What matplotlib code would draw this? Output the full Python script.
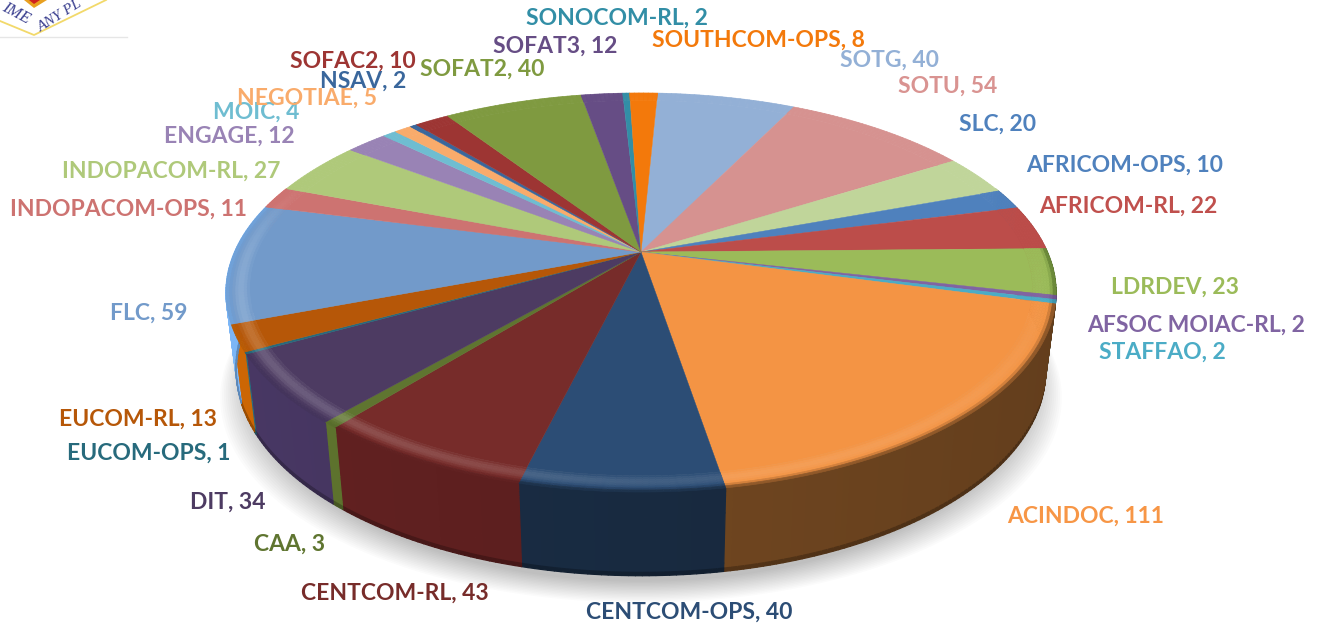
import numpy as np
import matplotlib
matplotlib.use("Agg")
import matplotlib.pyplot as plt
from matplotlib.collections import PolyCollection
from matplotlib.colors import to_rgb

categories = ["SOTG", "SOTU", "SLC", "AFRICOM-OPS", "AFRICOM-RL", "LDRDEV", "AFSOC MOIAC-RL", "STAFFAO",
              "ACINDOC", "CENTCOM-OPS", "CENTCOM-RL", "CAA", "DIT", "EUCOM-OPS", "EUCOM-RL", "FLC",
              "INDOPACOM-OPS", "INDOPACOM-RL", "ENGAGE", "MOIC", "NEGOTIAE", "NSAV", "SOFAC2", "SOFAT2",
              "SOFAT3", "SONOCOM-RL", "SOUTHCOM-OPS"]
values = [40, 54, 20, 10, 22, 23, 2, 2, 111, 40, 43, 3, 34, 1, 13, 59, 11, 27, 12, 4, 5, 2, 10, 40, 12, 2, 8]

colors = ["#93b0d6", "#d69290", "#c0d59a", "#4f81bd", "#bc4d4a", "#9bbb59", "#8064a2", "#4bacc6",
          "#f49444", "#2c4d75", "#772c2a", "#5f7530", "#4d3b62", "#276a7c", "#b65708", "#729aca",
          "#cd7371", "#afc97a", "#9983b5", "#6fbdd1", "#f9ab6b", "#3a679c", "#9d3533", "#7f9a40",
          "#664d85", "#328ea6", "#f3790b"]
wall_colors = ["#93b0d6", "#d69290", "#c0d59a", "#4f81bd", "#bc4d4a", "#5c7a30", "#6a4f8a", "#3a8fa6",
               "#704620", "#182a40", "#5a1e1e", "#566a2a", "#41325a", "#246070", "#b85c04", "#6fa3dc",
               "#cd7371", "#afc97a", "#9983b5", "#6fbdd1", "#f9ab6b", "#3a679c", "#9d3533", "#7f9a40",
               "#664d85", "#328ea6", "#f3790b"]
label_colors = ["#93b0d6", "#d99391", "#4f81bd", "#4f81bd", "#c0504d", "#9bbb59", "#8064a2", "#4bacc6",
                "#f79646", "#2c4d75", "#772c2a", "#5f7530", "#4d3b62", "#276a7c", "#b65708", "#729aca",
                "#cd7371", "#afc97a", "#9983b5", "#6fbdd1", "#f9ab6b", "#3a679c", "#9d3533", "#7f9a40",
                "#664d85", "#328ea6", "#f3790b"]
label_xy = [(890, 59), (948, 85), (998, 123), (1125, 164), (1128, 205), (1175, 286), (1196, 324), (1162, 351),
            (1086, 515), (689, 611), (395, 592), (290, 543), (228, 501), (149, 452), (138, 418), (149, 312),
            (128, 208), (171, 170), (229, 135), (256, 111), (307, 97), (363, 80), (353, 60), (482, 68),
            (555, 45), (617, 17), (758, 39)]

W, H = 1324, 627
CX, CY, B, A, K = 641.0, 252.0, 406.4, 191.3, 0.203
START_DEG = 2.8
DEPTH, K2, SHRINK = 77.0, 0.08, 0.975


def top_pt(theta, r=1.0):
    u, v = r * np.sin(theta), r * np.cos(theta)
    w = 1 + K * v
    return CX + B * u / w, CY - A * v / w


def wall_pt(theta, t):
    x, y = top_pt(theta)
    v = np.cos(theta)
    return CX + (x - CX) * (1 - (1 - SHRINK) * t), y + t * DEPTH / (1 + K2 * v)


def mix(c, target, f):
    return tuple((1 - f) * a + f * b for a, b in zip(c, target))


fig = plt.figure(figsize=(W / 100, H / 100), dpi=100, facecolor="white")
ax = fig.add_axes([0, 0, 1, 1])
ax.set_xlim(0, W)
ax.set_ylim(H, 0)
ax.axis("off")

# soft shadow under the pie
ths = np.linspace(0, 2 * np.pi, 361)
for grow in np.linspace(1.04, 0.97, 16):
    xs = CX + (np.array([wall_pt(t, 1)[0] for t in ths]) - CX) * grow
    ys = np.array([wall_pt(t, 1)[1] for t in ths]) + 6 + (grow - 0.97) * 300
    ax.fill(xs, ys, color="black", alpha=0.016, lw=0, zorder=0)

edges = np.cumsum([0] + values) / sum(values) * 2 * np.pi + np.radians(START_DEG)

wall_polys, wall_cols = [], []
ring_polys, ring_cols = [], []
top_polys, top_cols = [], []
rings = np.linspace(0.945, 1.0, 9)
layers = np.array([0, .04, .09, .16, .3, .6, .9, .96, 1.0])

for a0, a1, col, wcol in zip(edges[:-1], edges[1:], colors, wall_colors):
    base, wbase = to_rgb(col), to_rgb(wcol)
    n = max(2, int(np.degrees(a1 - a0) / 0.8) + 1)
    th = np.linspace(a0, a1, n + 1)
    rim = [top_pt(t, rings[0]) for t in th]
    top_polys.append([(CX, CY)] + rim)
    top_cols.append(base)
    for t0, t1 in zip(th[:-1], th[1:]):
        tm = 0.5 * (t0 + t1)
        s, c = np.sin(tm), np.cos(tm)
        # highlight only on the front and left of the bevel
        light = (0.10 * max(0.0, -c) + 0.14 * max(0.0, -s)) * min(1.0, max(0.0, 1.0 - c * 2.5))
        for r0, r1 in zip(rings[:-1], rings[1:]):
            rm = 0.5 * (r0 + r1)
            p = (rm - rings[0]) / (1 - rings[0])
            ridge = np.sin(np.pi * min(p / 0.75, 1.0))
            cc = mix(base, (1, 1, 1), light * ridge)
            if p > 0.75:
                cc = mix(cc, wbase, (p - 0.75) / 0.25)
            ring_polys.append([top_pt(t0, r0), top_pt(t1, r0), top_pt(t1, r1), top_pt(t0, r1)])
            ring_cols.append(cc)
        if c < 0.35:
            for l0, l1 in zip(layers[:-1], layers[1:]):
                lm = 0.5 * (l0 + l1)
                g = 1.0 - 0.12 * s
                cc = tuple(min(1, x * g) for x in wbase)
                if lm > 0.93:
                    cc = mix(cc, (0, 0, 0), 0.35 * (lm - 0.93) / 0.07)
                wall_polys.append([wall_pt(t0, l0), wall_pt(t1, l0), wall_pt(t1, l1), wall_pt(t0, l1)])
                wall_cols.append(cc)

ax.add_collection(PolyCollection(wall_polys, facecolors=wall_cols, edgecolors=wall_cols, linewidths=0.9, zorder=1))
ax.add_collection(PolyCollection(top_polys, facecolors=top_cols, edgecolors=top_cols, linewidths=0.3, zorder=2))
ax.add_collection(PolyCollection(ring_polys, facecolors=ring_cols, edgecolors=ring_cols, linewidths=0.5, zorder=3))

for name, val, col, (x, y) in zip(categories, values, label_colors, label_xy):
    ax.text(x, y + 1.5, f"{name}, {val}", color=col, family="Lato", weight="bold", fontsize=16.5,
            ha="center", va="center", zorder=5)

# cropped logo in the top-left corner
ax.plot([0, 127], [36.5, 36.5], color="#e6e6e6", lw=1, zorder=4)
ax.plot([0, 34, 106], [21, 35, 0], color="#f2d96a", lw=1.3, zorder=4)
ax.fill([24, 34, 47, 40], [0, 8, 0, 0], color="#e8a020", lw=0, zorder=4)
ax.fill([29, 34, 40], [0, 4, 0], color="#d02020", lw=0, zorder=4)
ax.text(16, 13, "IME", family="Liberation Serif", style="italic", color="#3a3f8f", fontsize=12,
        rotation=-28, ha="center", va="center", zorder=4)
ax.text(60, 16, "ANY PL", family="Liberation Serif", style="italic", color="#3a3f8f", fontsize=11,
        rotation=32, ha="center", va="center", zorder=4)

fig.savefig("out.png", dpi=100)
